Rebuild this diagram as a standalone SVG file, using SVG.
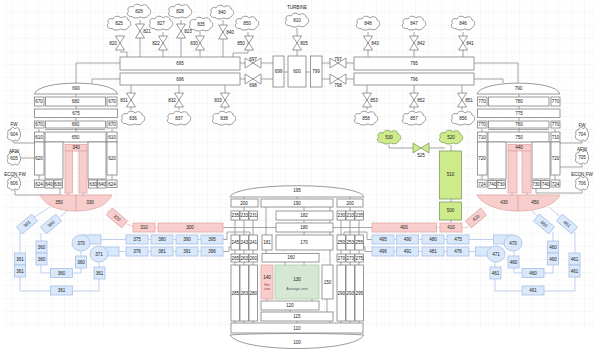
<svg xmlns="http://www.w3.org/2000/svg" width="594" height="354" viewBox="0 0 594 354">
<style>
text{font-family:"Liberation Sans",Arial,sans-serif;font-size:4.6px;fill:#222;text-anchor:middle;dominant-baseline:central}
.w{fill:#fff;stroke:#808080;stroke-width:.8}
.p{fill:#f8cecc;stroke:#e0a8a8;stroke-width:.8}
.b{fill:#dae8fc;stroke:#a9c0e4;stroke-width:.8}
.g{fill:#d5e8d4;stroke:#9cc48c;stroke-width:.6}
.l{fill:#cdeb8b;stroke:#7f9f5c;stroke-width:.8}
.c{fill:none;stroke:#909090;stroke-width:.8}
.d{fill:none;stroke:#b8cce8;stroke-width:.9}
.e{fill:none;stroke:#e8c0c0;stroke-width:.8}
</style>
<defs>
<pattern id="gm" width="2.6" height="2.6" patternUnits="userSpaceOnUse"><path d="M2.6 0V2.6H0" fill="none" stroke="#f6f6f6" stroke-width=".5"/></pattern>
<pattern id="gM" width="13" height="13" patternUnits="userSpaceOnUse"><path d="M13 0V13H0" fill="none" stroke="#e9e9e9" stroke-width=".6"/></pattern>
<path id="cl" d="M-7 5.500C-11 6-13 2.500-10.500 .5-12.500-3-9-5.500-6-4-4.500-7.500 0-7.500 2-5 5-7.500 9-6 9-3 12.500-2 12.500 3 9.500 4 8.500 7 4 7.500 2 5.800-1 7.500-5 7.500-7 5.500Z"/>
<path id="cs" d="M-4 5.500C-6.500 6-7 2.500-6 .5-7-3-5-5.500-3.500-4-2.500-7.500 0-7.500 1-5 3-7.500 5.500-6 5.500-3 7-2 7 3 5.500 4 5 7 2.500 7.500 1 5.800-.5 7.500-3 7.500-4 5.500Z"/>
<path id="vv" d="M-4.500-7H4.500L-4.500 7H4.500Z"/>
<path id="vh" d="M-8-5V5L8-5V5Z"/>
</defs>
<rect x="3" y="0" width="591" height="328" fill="url(#gm)"/>
<rect x="3" y="0" width="591" height="328" fill="url(#gM)"/>

<g id="connectors">
<path class="c" d="M120 36V50M120 52H127V57M140 20V57M163 32V57M181 20V57M200 32V57M223 20V57M248 32V53H233V57M297 28V56M368 32V57M414 32V57M463 32V57"/>
<path class="c" d="M120 63H76V83M120 79H92V83M474 63H518V83M474 79H503V83"/>
<path class="c" d="M131 85V110M179 85V110M225 85V110M367 85V110M414 85V110M462 85V110"/>
<path class="c" d="M240 63H273M240 79H273M322 63H354M322 79H354M284 72H288M306 72H310"/>
<path class="c" d="M76 94V97M76 106V109M76 117V121M76 127V132M519 94V97M519 106V109M519 117V121M519 127V132"/>
<path class="c" d="M45 129.500H105M39 129V132M112 129V132M488 129.500H549M482 129V132M555 129V132"/>
<path class="c" d="M39 175V180M112 175V180M49 179V180M58 179V180M93 179V180M102 179V180M482 175V180M555 175V180M492 179V180M501 179V180M536 179V180M545 179V180"/>
<path class="c" d="M68 192V196M83 192V196M512 192V196M527 192V196"/>
<path class="c" d="M14 141V143H35M21 158H35M15 190V195H60V188M560 143H582V141M560 167H582V164M536 188V193H582V190"/>
<path class="c" d="M389 145V148H445M451 145V151M451 199V202M451 220V223"/>
<path class="e" d="M155 227.500H158M436 227.500H440M462 227.500H468M484 212L480 214M127 224L133 227M107 211L112 214"/>
<path class="d" d="M50 207L33 218M67 211L60 217M20 232V253M41 233V241M41 265V273H50M73 273H81V268M81 256V251M20 277V291H50M73 291H99V279M99 267V262M101 239.500H126M119 251.500H126M148 239.500H151M173 239.500H176M198 239.500H201M148 251.500H151M173 251.500H176M198 251.500H201"/>
<path class="d" d="M529 207L537 216M549 207L559 216M553 232V241M575 232V253M553 265V273H544M522 273H514V268M514 256V251M575 277V291H544M522 291H495V279M495 267V262M469 239.500H493M469 251.500H475M393 239.500H396M418 239.500H422M444 239.500H447M393 251.500H396M418 251.500H422M444 251.500H447"/>
<path class="c" d="M223 239.500H227V232H250V235M223 251.500H229V247H231M372 239.500H367V232H344V235M372 251.500H365V247H363M223 227.500H276M333 227.500H372"/>
<path class="c" d="M244 197V199M297 197V199M350 197V199M244 207V211M235 220V235M244 220V235M253 220V235M341 220V235M350 220V235M359 220V235M235 250V265M244 250V265M253 250V265M341 250V265M350 250V265M359 250V265M235 321V323M244 321V323M253 321V323M341 321V323M350 321V323M359 321V323M350 207V211"/>
<path class="c" d="M266 207V235M304 220V223M304 232V235M304 207V211M266 250V253M330 207V265M327 299V312M285 262V265M304 262V265M267 299V301M312 299V301M290 310V312M297 321V323M297 333V334M330 321V323"/>
</g>

<g id="n825"><use href="#cl" x="119" y="23" class="w"/><text x="119" y="23">825</text></g>
<g id="n826"><use href="#cl" x="139" y="11" class="w"/><text x="139" y="11">826</text></g>
<g id="n827"><use href="#cl" x="161" y="23" class="w"/><text x="161" y="23">827</text></g>
<g id="n828"><use href="#cl" x="180" y="11" class="w"/><text x="180" y="11">828</text></g>
<g id="n835"><use href="#cl" x="201" y="24" class="w"/><text x="201" y="24">835</text></g>
<g id="n845"><use href="#cl" x="222" y="12" class="w"/><text x="222" y="12">840</text></g>
<g id="n855"><use href="#cl" x="247" y="23" class="w"/><text x="247" y="23">850</text></g>
<g id="n810"><use href="#cl" x="297" y="20" class="w"/><text x="297" y="20">810</text><text x="297" y="7">TURBINE</text></g>
<g id="n848"><use href="#cl" x="368" y="23" class="w"/><text x="368" y="23">848</text></g>
<g id="n847"><use href="#cl" x="414" y="23" class="w"/><text x="414" y="23">847</text></g>
<g id="n846"><use href="#cl" x="463" y="23" class="w"/><text x="463" y="23">846</text></g>
<g id="n836"><use href="#cl" x="133" y="118" class="w"/><text x="133" y="118">836</text></g>
<g id="n837"><use href="#cl" x="179" y="118" class="w"/><text x="179" y="118">837</text></g>
<g id="n838"><use href="#cl" x="224" y="118" class="w"/><text x="224" y="118">838</text></g>
<g id="n858"><use href="#cl" x="366" y="118" class="w"/><text x="366" y="118">858</text></g>
<g id="n857"><use href="#cl" x="414" y="118" class="w"/><text x="414" y="118">857</text></g>
<g id="n856"><use href="#cl" x="463" y="118" class="w"/><text x="463" y="118">856</text></g>

<g id="v820"><use href="#vv" x="120" y="43" class="w"/><text x="113" y="43">820</text></g>
<g id="v821"><use href="#vv" x="140" y="31" class="w"/><text x="147" y="31">821</text></g>
<g id="v822"><use href="#vv" x="163" y="43" class="w"/><text x="156" y="43">822</text></g>
<g id="v823"><use href="#vv" x="181" y="31" class="w"/><text x="188" y="31">823</text></g>
<g id="v830"><use href="#vv" x="200" y="43" class="w"/><text x="194" y="43">830</text></g>
<g id="v840"><use href="#vv" x="223" y="32" class="w"/><text x="230" y="32">840</text></g>
<g id="v850"><use href="#vv" x="249" y="43" class="w"/><text x="241" y="43">850</text></g>
<g id="v805"><use href="#vv" x="297" y="43" class="w"/><text x="304" y="43">805</text></g>
<g id="v843"><use href="#vv" x="368" y="43" class="w"/><text x="375" y="43">843</text></g>
<g id="v842"><use href="#vv" x="414" y="43" class="w"/><text x="421" y="43">842</text></g>
<g id="v841"><use href="#vv" x="463" y="43" class="w"/><text x="470" y="43">841</text></g>
<g id="v831"><use href="#vv" x="131" y="100" class="w"/><text x="124" y="100">831</text></g>
<g id="v832"><use href="#vv" x="179" y="100" class="w"/><text x="172" y="100">832</text></g>
<g id="v833"><use href="#vv" x="225" y="100" class="w"/><text x="218" y="100">833</text></g>
<g id="v853"><use href="#vv" x="367" y="100" class="w"/><text x="374" y="100">853</text></g>
<g id="v852"><use href="#vv" x="414" y="100" class="w"/><text x="421" y="100">852</text></g>
<g id="v851"><use href="#vv" x="462" y="100" class="w"/><text x="469" y="100">851</text></g>
<g id="v697"><use href="#vh" x="253" y="63" class="w"/><text x="253" y="59.500">697</text></g>
<g id="v698"><use href="#vh" x="253" y="79" class="w"/><text x="253" y="85">698</text></g>
<g id="v797"><use href="#vh" x="338" y="63" class="w"/><text x="338" y="59.500">797</text></g>
<g id="v798"><use href="#vh" x="338" y="79" class="w"/><text x="338" y="85">798</text></g>
<g id="v525"><use href="#vh" x="421" y="148" class="l"/><text x="421" y="155">525</text></g>

<g id="n695"><rect class="w" x="120" y="57" width="120" height="13"/><text x="180" y="63.500">695</text></g>
<g id="n696"><rect class="w" x="120" y="73" width="120" height="12"/><text x="180" y="79">696</text></g>
<g id="n699"><rect class="w" x="273" y="56" width="11" height="31"/><text x="278.500" y="71.500">699</text></g>
<g id="n600"><rect class="w" x="288" y="56" width="18" height="31"/><text x="297" y="71.500">600</text></g>
<g id="n799"><rect class="w" x="310.500" y="56" width="11.500" height="31"/><text x="316" y="71.500">799</text></g>
<g id="n795"><rect class="w" x="354" y="57" width="120" height="13"/><text x="414" y="63.500">795</text></g>
<g id="n796"><rect class="w" x="354" y="73" width="120" height="12"/><text x="414" y="79">796</text></g>

<g id="n690"><path class="w" d="M34.500 94C38 79.500 114 79.500 117.500 94Z"/><text x="76" y="88">690</text></g>
<g id="n670a"><rect class="w" x="34.500" y="97" width="9.500" height="9"/><text x="39" y="101.500">670</text></g>
<g id="n680"><rect class="w" x="45.500" y="97" width="60" height="9"/><text x="75.500" y="101.500">680</text></g>
<g id="n670b"><rect class="w" x="107" y="97" width="10" height="9"/><text x="112" y="101.500">670</text></g>
<g id="n675"><rect class="w" x="34.500" y="109" width="83" height="8.500"/><text x="76" y="113">675</text></g>
<g id="n670c"><rect class="w" x="34.500" y="121" width="9.500" height="7"/><text x="39" y="124.500">670</text></g>
<g id="n660"><rect class="w" x="45.500" y="121" width="60" height="7"/><text x="75.500" y="124.500">660</text></g>
<g id="n670d"><rect class="w" x="107" y="121" width="10" height="7"/><text x="112" y="124.500">670</text></g>
<g id="n610a"><rect class="w" x="34.500" y="132" width="9.500" height="10"/><text x="39" y="137">610</text></g>
<g id="n650"><rect class="w" x="45" y="132" width="61" height="10"/><text x="75.500" y="137">650</text></g>
<g id="n610b"><rect class="w" x="107" y="132" width="10" height="10"/><text x="112" y="137">610</text></g>
<g id="n620a"><rect class="w" x="34.500" y="142" width="9.500" height="33"/><text x="39" y="158.500">620</text></g>
<rect class="w" x="45" y="142" width="18" height="37"/>
<rect class="w" x="88" y="142" width="18" height="37"/>
<g id="n620b"><rect class="w" x="107" y="142" width="10" height="33"/><text x="112" y="158.500">620</text></g>
<g id="n624a"><rect class="w" x="34.500" y="180" width="9.500" height="7.500"/><text x="39" y="184">624</text></g>
<g id="n640a"><rect class="w" x="45" y="180" width="8.500" height="8"/><text x="49" y="184">640</text></g>
<g id="n630a"><rect class="w" x="54" y="180" width="8.500" height="8"/><text x="58" y="184">630</text></g>
<g id="n630b"><rect class="w" x="88.500" y="180" width="8.500" height="8"/><text x="93" y="184">630</text></g>
<g id="n640b"><rect class="w" x="97.500" y="180" width="8.500" height="8"/><text x="102" y="184">640</text></g>
<g id="n624b"><rect class="w" x="107" y="180" width="10" height="7.500"/><text x="112" y="184">624</text></g>
<g id="n340"><rect class="p" x="65" y="144.500" width="22" height="6.500"/><rect class="p" x="65" y="151" width="7.500" height="42"/><rect class="p" x="79" y="151" width="8" height="42"/><text x="76" y="147.500">340</text></g>
<g id="n350"><path class="p" d="M40 195H76V211C56 211 44 204 40 195Z"/><text x="59" y="202">350</text></g>
<g id="n330"><path class="p" d="M76 195H112C108 204 96 211 76 211Z"/><text x="90" y="202">330</text></g>
<g id="n604"><use href="#cs" x="14" y="134" class="w"/><text x="14" y="134">604</text><text x="14" y="124">FW</text></g>
<g id="n605"><use href="#cs" x="14" y="158" class="w"/><text x="14" y="158">605</text><text x="14" y="151">AFW</text></g>
<g id="n606"><use href="#cs" x="14" y="183" class="w"/><text x="14" y="183">606</text><text x="15" y="174">ECON FW</text></g>

<g id="n790"><path class="w" d="M477 94C481 79.500 556 79.500 560 94Z"/><text x="518.500" y="88">790</text></g>
<g id="n770a"><rect class="w" x="477.500" y="97" width="9.500" height="9"/><text x="482" y="101.500">770</text></g>
<g id="n780"><rect class="w" x="488.500" y="97" width="60.500" height="9"/><text x="519" y="101.500">780</text></g>
<g id="n770b"><rect class="w" x="551" y="97" width="9" height="9"/><text x="555.500" y="101.500">770</text></g>
<g id="n775"><rect class="w" x="477.500" y="109" width="82.500" height="8.500"/><text x="519" y="113">775</text></g>
<g id="n770c"><rect class="w" x="477.500" y="121" width="9.500" height="7"/><text x="482" y="124.500">770</text></g>
<g id="n760"><rect class="w" x="488.500" y="121" width="60.500" height="7"/><text x="519" y="124.500">760</text></g>
<g id="n770d"><rect class="w" x="551" y="121" width="9" height="7"/><text x="555.500" y="124.500">770</text></g>
<g id="n710a"><rect class="w" x="477.500" y="132" width="9.500" height="10"/><text x="482" y="137">710</text></g>
<g id="n750"><rect class="w" x="488" y="132" width="61" height="10"/><text x="519" y="137">750</text></g>
<g id="n710b"><rect class="w" x="551" y="132" width="9" height="10"/><text x="555.500" y="137">710</text></g>
<g id="n720a"><rect class="w" x="477.500" y="142" width="9.500" height="33"/><text x="482" y="158.500">720</text></g>
<rect class="w" x="488" y="142" width="18" height="37"/>
<rect class="w" x="532" y="142" width="18" height="37"/>
<g id="n720b"><rect class="w" x="551" y="142" width="9" height="33"/><text x="555.500" y="158.500">720</text></g>
<g id="n724a"><rect class="w" x="477.500" y="180" width="9.500" height="7"/><text x="482" y="184">724</text></g>
<g id="n740a"><rect class="w" x="488" y="180.500" width="8.500" height="8"/><text x="492.500" y="184.500">740</text></g>
<g id="n730a"><rect class="w" x="497" y="180.500" width="8.500" height="8"/><text x="501" y="184.500">730</text></g>
<g id="n730b"><rect class="w" x="532" y="180.500" width="8.500" height="8"/><text x="536" y="184.500">730</text></g>
<g id="n740b"><rect class="w" x="541" y="180.500" width="8.500" height="8"/><text x="545.500" y="184.500">740</text></g>
<g id="n724b"><rect class="w" x="551" y="180" width="9" height="7"/><text x="555.500" y="184">724</text></g>
<g id="n440"><rect class="p" x="508" y="144.500" width="23" height="6.500"/><rect class="p" x="508" y="151" width="9" height="42"/><rect class="p" x="522" y="151" width="9" height="42"/><text x="519" y="147.500">440</text></g>
<g id="n430"><path class="p" d="M477 195H518V211C497 211 482 204 477 195Z"/><text x="504" y="202">430</text></g>
<g id="n450"><path class="p" d="M518 195H560C556 204 540 211 518 211Z"/><text x="535" y="202">450</text></g>
<g id="n704"><use href="#cs" x="582" y="134" class="w"/><text x="582" y="134">704</text><text x="582" y="125">FW</text></g>
<g id="n705"><use href="#cs" x="582" y="157" class="w"/><text x="582" y="157">705</text><text x="582" y="149">AFW</text></g>
<g id="n706"><use href="#cs" x="582" y="183" class="w"/><text x="582" y="183">706</text><text x="582" y="174">ECON FW</text></g>

<g id="n530"><use href="#cl" x="389" y="137" class="l"/><text x="389" y="137">530</text></g>
<g id="n520"><use href="#cl" x="451" y="137" class="l"/><text x="451" y="137">520</text></g>
<g id="n510"><rect class="l" x="439.500" y="151" width="22" height="48"/><text x="450.500" y="174">510</text></g>
<g id="n500"><rect class="l" x="439.500" y="202" width="22" height="18"/><text x="450.500" y="210.500">500</text></g>

<g id="n300"><rect class="p" x="158" y="223" width="65" height="9"/><text x="190" y="227.500">300</text></g>
<g id="n310"><rect class="p" x="133" y="223" width="22" height="9"/><text x="144" y="227.500">310</text></g>
<g id="n320" transform="rotate(40 117 218)"><rect class="p" x="107" y="213.500" width="20" height="9"/><text x="117" y="218">320</text></g>
<g id="n400"><rect class="p" x="372" y="223" width="64.500" height="9"/><text x="404" y="227.500">400</text></g>
<g id="n410"><rect class="p" x="440" y="223" width="22" height="9"/><text x="451" y="227.500">410</text></g>
<g id="n420" transform="rotate(-40 476 218)"><rect class="p" x="466" y="213.500" width="20" height="9"/><text x="476" y="218">420</text></g>

<g id="n361r" transform="rotate(-40 27 224)"><rect class="b" x="17" y="219.500" width="20" height="9"/><text x="27" y="224">361</text></g>
<g id="n360r" transform="rotate(-40 51 224)"><rect class="b" x="41" y="219.500" width="20" height="9"/><text x="51" y="224">360</text></g>
<g id="n360a"><rect class="b" x="36" y="241" width="11" height="12"/><text x="41.500" y="247">360</text></g>
<g id="n360b"><rect class="b" x="36" y="253" width="11" height="12"/><text x="41.500" y="259">360</text></g>
<g id="n361a"><rect class="b" x="14.500" y="253" width="11" height="12"/><text x="20" y="259">361</text></g>
<g id="n361b"><rect class="b" x="14.500" y="265" width="11" height="12"/><text x="20" y="271">361</text></g>
<g id="n360c"><rect class="b" x="50.500" y="268.500" width="22" height="9"/><text x="61.500" y="273">360</text></g>
<g id="n360d"><rect class="b" x="75.500" y="256" width="11" height="12"/><text x="81" y="262">360</text></g>
<g id="n361c"><rect class="b" x="94" y="267" width="11" height="12"/><text x="99.500" y="273">361</text></g>
<g id="n361d"><rect class="b" x="50.500" y="286" width="22" height="9"/><text x="61.500" y="290.500">361</text></g>
<g id="n370"><rect class="b" x="82" y="235" width="19" height="9"/><ellipse class="b" cx="81" cy="243" rx="9" ry="8"/><text x="81" y="243">370</text></g>
<g id="n371"><rect class="b" x="100" y="247" width="19" height="9"/><ellipse class="b" cx="99" cy="254" rx="9" ry="8"/><text x="99" y="254">371</text></g>
<g id="n375"><rect class="b" x="126" y="235" width="22" height="9"/><text x="137" y="239.500">375</text></g>
<g id="n380"><rect class="b" x="151" y="235" width="22" height="9"/><text x="162" y="239.500">380</text></g>
<g id="n390"><rect class="b" x="176" y="235" width="22" height="9"/><text x="187" y="239.500">390</text></g>
<g id="n395"><rect class="b" x="201" y="235" width="22" height="9"/><text x="212" y="239.500">395</text></g>
<g id="n376"><rect class="b" x="126" y="247" width="22" height="9"/><text x="137" y="251.500">376</text></g>
<g id="n381"><rect class="b" x="151" y="247" width="22" height="9"/><text x="162" y="251.500">381</text></g>
<g id="n391"><rect class="b" x="176" y="247" width="22" height="9"/><text x="187" y="251.500">391</text></g>
<g id="n396"><rect class="b" x="201" y="247" width="22" height="9"/><text x="212" y="251.500">396</text></g>

<g id="n495"><rect class="b" x="372" y="235" width="22" height="9"/><text x="383" y="239.500">495</text></g>
<g id="n490"><rect class="b" x="396.500" y="235" width="22" height="9"/><text x="407.500" y="239.500">490</text></g>
<g id="n480"><rect class="b" x="422" y="235" width="22" height="9"/><text x="433" y="239.500">480</text></g>
<g id="n475"><rect class="b" x="447" y="235" width="22" height="9"/><text x="458" y="239.500">475</text></g>
<g id="n496"><rect class="b" x="372" y="247" width="22" height="9"/><text x="383" y="251.500">496</text></g>
<g id="n491"><rect class="b" x="396.500" y="247" width="22" height="9"/><text x="407.500" y="251.500">491</text></g>
<g id="n481"><rect class="b" x="422" y="247" width="22" height="9"/><text x="433" y="251.500">481</text></g>
<g id="n476"><rect class="b" x="447" y="247" width="22" height="9"/><text x="458" y="251.500">476</text></g>
<g id="n470"><rect class="b" x="493.500" y="235" width="19" height="9"/><ellipse class="b" cx="513" cy="243" rx="9" ry="8"/><text x="513" y="243">470</text></g>
<g id="n471"><rect class="b" x="475.500" y="247" width="19" height="9"/><ellipse class="b" cx="496" cy="254" rx="9" ry="8"/><text x="496" y="254">471</text></g>
<g id="n460a"><rect class="b" x="547.500" y="241" width="11" height="12"/><text x="553" y="247">460</text></g>
<g id="n460b"><rect class="b" x="547.500" y="253" width="11" height="12"/><text x="553" y="259">460</text></g>
<g id="n461a"><rect class="b" x="569" y="253" width="11" height="12"/><text x="574.500" y="259">461</text></g>
<g id="n461b"><rect class="b" x="569" y="265" width="11" height="12"/><text x="574.500" y="271">461</text></g>
<g id="n460c"><rect class="b" x="522" y="268.500" width="22" height="9"/><text x="533" y="273">460</text></g>
<g id="n460d"><rect class="b" x="508" y="256" width="11" height="12"/><text x="513.500" y="262">460</text></g>
<g id="n461c"><rect class="b" x="490" y="267" width="11" height="12"/><text x="495.500" y="273">461</text></g>
<g id="n461d"><rect class="b" x="522" y="286" width="22" height="9"/><text x="533" y="290.500">461</text></g>
<g id="n460r" transform="rotate(40 544 224)"><rect class="b" x="534" y="219.500" width="20" height="9"/><text x="544" y="224">460</text></g>
<g id="n461r" transform="rotate(40 567 224)"><rect class="b" x="557" y="219.500" width="20" height="9"/><text x="567" y="224">461</text></g>

<g id="n195"><path class="w" d="M230 197C235 182 359 182 364 197Z"/><text x="297" y="190">195</text></g>
<g id="n200a"><rect class="w" x="231" y="199" width="27" height="8"/><text x="244" y="203">200</text></g>
<g id="n190"><rect class="w" x="261" y="199" width="72" height="8"/><text x="297" y="203">190</text></g>
<g id="n200b"><rect class="w" x="337" y="199" width="26" height="8"/><text x="350" y="203">200</text></g>
<g id="n235a"><rect class="w" x="231" y="211" width="8.500" height="9"/><text x="235.300" y="215.500">235</text></g>
<g id="n233a"><rect class="w" x="240" y="211" width="8.500" height="9"/><text x="244.300" y="215.500">233</text></g>
<g id="n231"><rect class="w" x="249" y="211" width="8.500" height="9"/><text x="253.300" y="215.500">231</text></g>
<g id="n182"><rect class="w" x="276" y="211" width="57" height="9"/><text x="304" y="215.500">182</text></g>
<g id="n180"><rect class="w" x="276" y="223" width="57" height="9"/><text x="304" y="227.500">180</text></g>
<g id="n230"><rect class="w" x="337" y="211" width="8.500" height="9"/><text x="341.300" y="215.500">230</text></g>
<g id="n233b"><rect class="w" x="346" y="211" width="8.500" height="9"/><text x="350.300" y="215.500">233</text></g>
<g id="n235b"><rect class="w" x="355" y="211" width="8.500" height="9"/><text x="359.300" y="215.500">235</text></g>
<g id="n245"><rect class="w" x="231" y="235" width="8.500" height="15"/><text x="235.300" y="242.500">245</text></g>
<g id="n243"><rect class="w" x="240" y="235" width="8.500" height="15"/><text x="244.300" y="242.500">243</text></g>
<g id="n241"><rect class="w" x="249" y="235" width="8.500" height="15"/><text x="253.300" y="242.500">241</text></g>
<g id="n181"><rect class="w" x="262" y="235" width="10" height="15"/><text x="267" y="242.500">181</text></g>
<g id="n170"><rect class="w" x="276" y="235" width="57" height="15"/><text x="304" y="242.500">170</text></g>
<g id="n250"><rect class="w" x="337" y="235" width="8.500" height="15"/><text x="341.300" y="242.500">250</text></g>
<g id="n253"><rect class="w" x="346" y="235" width="8.500" height="15"/><text x="350.300" y="242.500">253</text></g>
<g id="n255"><rect class="w" x="355" y="235" width="8.500" height="15"/><text x="359.300" y="242.500">255</text></g>
<g id="n265"><rect class="w" x="231" y="254" width="8.500" height="8"/><text x="235.300" y="258">265</text></g>
<g id="n263"><rect class="w" x="240" y="254" width="8.500" height="8"/><text x="244.300" y="258">263</text></g>
<g id="n260"><rect class="w" x="249" y="254" width="8.500" height="8"/><text x="253.300" y="258">260</text></g>
<g id="n160"><rect class="w" x="262" y="253.500" width="57" height="8.500"/><text x="291" y="257.500">160</text></g>
<g id="n270"><rect class="w" x="337" y="254" width="8.500" height="8"/><text x="341.300" y="258">270</text></g>
<g id="n273"><rect class="w" x="346" y="254" width="8.500" height="8"/><text x="350.300" y="258">273</text></g>
<g id="n275"><rect class="w" x="355" y="254" width="8.500" height="8"/><text x="359.300" y="258">275</text></g>
<g id="n285"><rect class="w" x="231" y="265" width="8.500" height="56"/><text x="235.300" y="293">285</text></g>
<g id="n283"><rect class="w" x="240" y="265" width="8.500" height="56"/><text x="244.300" y="293">283</text></g>
<g id="n280"><rect class="w" x="249" y="265" width="8.500" height="56"/><text x="253.300" y="293">280</text></g>
<g id="n290"><rect class="w" x="337" y="265" width="8.500" height="56"/><text x="341.300" y="293">290</text></g>
<g id="n293"><rect class="w" x="346" y="265" width="8.500" height="56"/><text x="350.300" y="293">293</text></g>
<g id="n295"><rect class="w" x="355" y="265" width="8.500" height="56"/><text x="359.300" y="293">295</text></g>
<g id="n140"><rect class="p" x="261" y="265" width="12" height="34"/><text x="267" y="277">140</text><text x="267" y="285" style="font-size:3.400px;fill:#a33">Hot</text><text x="267" y="289" style="font-size:3.400px;fill:#a33">core</text></g>
<g id="n130"><rect class="g" x="275" y="265" width="44" height="34"/><text x="297" y="279">130</text><text x="297" y="288.500" style="font-size:3.600px;fill:#555">Average core</text></g>
<g id="n150"><rect class="w" x="322" y="265" width="11" height="34"/><text x="327.500" y="282">150</text></g>
<g id="n120"><rect class="w" x="261" y="301" width="58" height="9"/><text x="290" y="305.500">120</text></g>
<g id="n115"><rect class="w" x="261" y="312" width="72" height="9"/><text x="297" y="316.500">115</text></g>
<g id="n110"><rect class="w" x="231" y="323" width="132" height="10"/><text x="297" y="328">110</text></g>
<g id="n100"><path class="w" d="M230 335C240 353 354 353 364 335C340 333 254 333 230 335Z"/><text x="297" y="342">100</text></g>
</svg>
